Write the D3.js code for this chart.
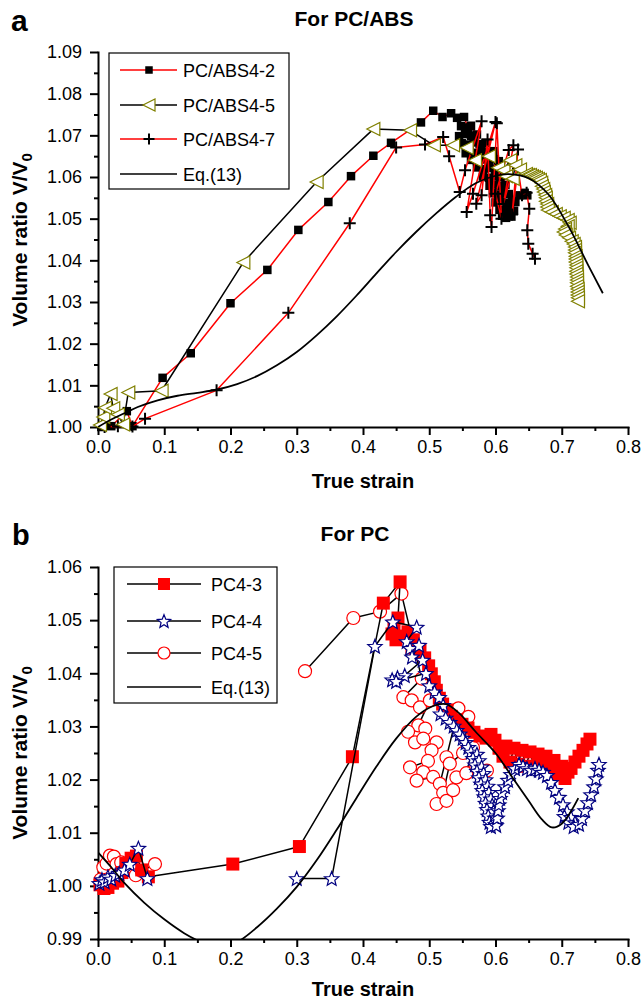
<!DOCTYPE html>
<html>
<head>
<meta charset="utf-8">
<script src="https://cdn.jsdelivr.net/npm/d3@7"></script>
<style>
  body { margin: 0; background: #fff; }
  svg { display: block; }
  text { font-family: "Liberation Sans", Arial, Helvetica, sans-serif; fill: #000; }
</style>
</head>
<body>
<svg id="chart" width="644" height="999"></svg>
<script>
// ---------- axis ticks ----------
const xMajor = [0, 0.1, 0.2, 0.3, 0.4, 0.5, 0.6, 0.7, 0.8];
const xMinor = [0.05, 0.15, 0.25, 0.35, 0.45, 0.55, 0.65, 0.75];
const yMajorA = [1.00, 1.01, 1.02, 1.03, 1.04, 1.05, 1.06, 1.07, 1.08, 1.09];
const yMinorA = [1.005, 1.015, 1.025, 1.035, 1.045, 1.055, 1.065, 1.075, 1.085];
const yMajorB = [0.99, 1.00, 1.01, 1.02, 1.03, 1.04, 1.05, 1.06];
const yMinorB = [0.995, 1.005, 1.015, 1.025, 1.035, 1.045, 1.055];

// ---------- labels ----------
const titleA = "For PC/ABS";
const titleB = "For PC";
const xTitle = "True strain";
const legendA = ["PC/ABS4-2", "PC/ABS4-5", "PC/ABS4-7", "Eq.(13)"];
const legendB = ["PC4-3", "PC4-4", "PC4-5", "Eq.(13)"];

// ---------- panel a: PC/ABS (true strain, V/V0) ----------
const pcabs42 = [[0.005,1.0000],[0.020,1.0002],[0.0435,1.0038],[0.052,1.0002],[0.0975,1.0118],[0.140,1.0177],
  [0.200,1.0297],[0.2556,1.0377],[0.3024,1.0473],[0.3477,1.0540],[0.3819,1.0602],[0.4156,1.0651],[0.4423,1.0682],
  [0.4875,1.0731],[0.506,1.0759],[0.520,1.0744],[0.533,1.0753],[0.542,1.0742],[0.5525,1.0744],[0.559,1.0716],
  [0.548,1.0722],[0.556,1.0719],[0.563,1.0723],
  [0.572,1.0702],[0.563,1.0699],[0.554,1.0703],[0.545,1.0698],
  [0.549,1.0681],[0.558,1.0678],[0.567,1.0683],[0.576,1.0679],[0.585,1.0682],
  [0.597,1.0662],[0.588,1.0659],[0.579,1.0663],[0.570,1.0658],[0.561,1.0661],[0.555,1.0657],
  [0.563,1.0641],[0.572,1.0638],[0.581,1.0642],[0.590,1.0639],[0.599,1.0643],[0.605,1.0638],
  [0.608,1.0621],[0.600,1.0618],[0.591,1.0622],[0.582,1.0619],[0.572,1.0623],
  [0.581,1.0601],[0.590,1.0598],[0.599,1.0602],[0.607,1.0599],[0.612,1.0603],
  [0.615,1.0581],[0.607,1.0578],[0.599,1.0582],[0.591,1.0579],
  [0.596,1.0561],[0.604,1.0558],[0.612,1.0562],[0.620,1.0559],
  [0.625,1.0541],[0.617,1.0538],[0.609,1.0542],[0.600,1.0539],
  [0.606,1.0521],[0.614,1.0518],[0.622,1.0522],[0.628,1.0519],
  [0.624,1.0505],[0.616,1.0502],[0.610,1.0507],
  [0.630,1.0540],[0.636,1.0556],[0.644,1.0562],[0.648,1.0556]];

const pcabs45 = [[0.003,1.0005],[0.008,1.0024],[0.0106,1.0046],[0.019,1.0079],[0.023,1.0045],[0.030,1.0030],
  [0.038,1.0006],[0.0457,1.0083],[0.096,1.0087],[0.2194,1.0395],[0.330,1.0588],[0.4156,1.0715],[0.471,1.0712],
  [0.507,1.0676],[0.536,1.0676],[0.5565,1.0670],[0.569,1.0640],[0.590,1.0650],[0.604,1.0622],[0.612,1.0616],
  [0.622,1.0640],[0.616,1.0602],[0.626,1.0596],[0.630,1.0628],[0.637,1.0618],
  [0.646,1.0607],[0.649,1.0605],[0.652,1.0605],[0.655,1.0602],[0.658,1.0600],[0.661,1.0598],[0.664,1.0595],[0.667,1.0593],
  [0.669,1.0586],[0.670,1.0578],[0.672,1.0571],[0.673,1.0564],[0.675,1.0557],[0.676,1.0550],[0.676,1.0542],[0.678,1.0535],
  [0.678,1.0528],[0.679,1.0521],[0.685,1.0516],[0.691,1.0511],[0.697,1.0506],[0.703,1.0502],[0.709,1.0497],[0.712,1.0490],
  [0.709,1.0482],[0.705,1.0475],[0.703,1.0468],[0.706,1.0461],[0.711,1.0454],[0.715,1.0446],[0.718,1.0439],
  [0.720,1.0432],[0.720,1.0425],[0.720,1.0418],[0.721,1.0410],[0.721,1.0403],[0.721,1.0396],[0.722,1.0389],[0.722,1.0382],
  [0.722,1.0374],[0.722,1.0367],[0.723,1.0360],[0.723,1.0353],[0.723,1.0346],[0.723,1.0338],[0.724,1.0331],[0.724,1.0324],
  [0.724,1.0317],[0.7245,1.0310],[0.7245,1.0302]];

const pcabs47 = [[0.010,1.0000],[0.030,1.0002],[0.052,1.0001],[0.071,1.0020],[0.179,1.0088],[0.2873,1.0274],
  [0.380,1.0489],[0.450,1.0671],[0.4936,1.0678],[0.521,1.0696],[0.530,1.0650],[0.546,1.0564],[0.554,1.0616],
  [0.579,1.0734],[0.5565,1.0516],[0.566,1.0560],[0.600,1.0732],[0.571,1.0536],[0.579,1.0556],[0.588,1.0690],
  [0.592,1.0508],[0.594,1.0480],[0.602,1.0729],[0.609,1.0500],[0.600,1.0560],[0.620,1.0665],[0.627,1.0676],
  [0.612,1.0535],[0.634,1.0666],[0.625,1.0510],[0.634,1.0620],[0.640,1.0556],[0.647,1.0562],[0.651,1.0524],
  [0.648,1.0472],[0.6495,1.0440],[0.656,1.0416],[0.6596,1.0404]];

const eqA = [[0,1.0000],[0.02,1.0018],[0.04,1.0033],[0.06,1.0048],[0.09,1.0064],[0.12,1.0075],[0.15,1.0082],
  [0.18,1.0090],[0.21,1.0103],[0.24,1.0122],[0.27,1.0148],[0.30,1.0180],[0.33,1.0220],[0.36,1.0265],[0.39,1.0315],
  [0.42,1.0368],[0.45,1.0420],[0.48,1.0468],[0.51,1.0512],[0.54,1.0552],[0.57,1.0585],[0.60,1.0603],[0.62,1.0607],
  [0.65,1.0597],[0.68,1.0558],[0.71,1.0482],[0.74,1.0388],[0.762,1.0321]];

// ---------- panel b: PC (null = break in the connecting line) ----------
const pc43 = [[0.003,1.0002],[0.009,0.9995],[0.015,0.9997],[0.022,1.0005],[0.030,1.0009],[0.036,1.0025],[0.042,1.0042],
  [0.050,1.0052],[0.058,1.0056],[0.066,1.0030],[0.076,1.0017],[0.2035,1.0041],[0.304,1.0074],[0.384,1.0243],
  [0.4307,1.0532],[0.456,1.0572],
  [0.4528,1.0504],[0.4468,1.0489],[0.4438,1.0474],[0.4498,1.0463],[0.4589,1.0470],[0.4679,1.0478],[0.4760,1.0463],
  [0.4739,1.0448],[0.4800,1.0436],[0.4860,1.0444],[0.4931,1.0429],[0.4991,1.0414],[0.5031,1.0399],[0.5076,1.0384],
  [0.5107,1.0368],[0.5152,1.0353],[0.5202,1.0342],[0.5268,1.0331],[0.5333,1.0319],[0.5414,1.0312],[0.5494,1.0304],
  [0.5585,1.0297],[0.5675,1.0289],[0.5766,1.0282],[0.5857,1.0278],[0.5932,1.0285],[0.5992,1.0274],[0.6053,1.0259],
  [0.6113,1.0244],[0.6158,1.0263],[0.6219,1.0233],[0.6279,1.0259],[0.6340,1.0229],[0.6400,1.0255],[0.6460,1.0225],
  [0.6521,1.0252],[0.6581,1.0225],[0.6642,1.0248],[0.6702,1.0221],[0.6762,1.0244],[0.6823,1.0218],[0.6883,1.0236],
  [0.6943,1.0210],[0.7004,1.0225],[0.7049,1.0202],[0.7094,1.0214],[0.7140,1.0221],[0.7200,1.0233],[0.7260,1.0244],
  [0.7321,1.0255],[0.7381,1.0267],[0.7426,1.0276]];

const pc44 = [[0.002,1.0005],[0.006,1.0012],[0.010,1.0008],[0.015,1.0017],[0.020,1.0013],[0.026,1.0020],[0.032,1.0024],
  [0.040,1.0030],[0.048,1.0041],[0.061,1.0071],[0.0745,1.0014], null,
  [0.300,1.0014],[0.3527,1.0014],[0.418,1.0451],[0.445,1.0497],[0.481,1.0487],[0.466,1.0460],[0.471,1.0447],
  [0.4846,1.0453],[0.474,1.0431],[0.490,1.0425],[0.463,1.0396],[0.452,1.0392],[0.444,1.0388],[0.450,1.0385],
  [0.495,1.0400],[0.500,1.0377],[0.508,1.0365],[0.515,1.0355],[0.521,1.0340],[0.517,1.0324],
  [0.5248,1.0316],[0.5308,1.0308],[0.5369,1.0301],[0.5414,1.0293],[0.5459,1.0286],[0.5505,1.0278],[0.5550,1.0270],
  [0.5590,1.0261],[0.5630,1.0252],[0.5720,1.0248],[0.5660,1.0240],[0.5750,1.0236],[0.5690,1.0228],[0.5790,1.0224],
  [0.5720,1.0216],[0.5820,1.0212],[0.5750,1.0204],[0.5850,1.0200],[0.5780,1.0192],[0.5880,1.0188],[0.5800,1.0180],
  [0.5900,1.0176],[0.5830,1.0168],[0.5930,1.0164],[0.5850,1.0156],[0.5950,1.0152],[0.5870,1.0144],[0.5970,1.0140],
  [0.5890,1.0132],[0.5990,1.0128],[0.5910,1.0120],[0.6000,1.0116],[0.5930,1.0112],[0.6010,1.0114],[0.6025,1.0128],
  [0.6038,1.0142],[0.6050,1.0153],
  [0.6068,1.0165],[0.6098,1.0176],[0.6143,1.0187],[0.6189,1.0199],[0.6234,1.0210],[0.6294,1.0221],[0.6355,1.0229],
  [0.6415,1.0225],[0.6475,1.0221],[0.6536,1.0218],[0.6596,1.0221],[0.6657,1.0218],[0.6717,1.0214],[0.6777,1.0208],
  [0.6838,1.0195],[0.6898,1.0180],[0.6958,1.0167],[0.7019,1.0153],[0.7079,1.0140],[0.7040,1.0131],[0.7140,1.0129],
  [0.7100,1.0120],[0.7200,1.0119],[0.7180,1.0112],[0.7260,1.0116],[0.7306,1.0127],[0.7351,1.0142],[0.7396,1.0157],
  [0.7442,1.0172],[0.7487,1.0187],[0.7517,1.0202],[0.7547,1.0218],[0.7562,1.0229]];

const pc45 = [[0.004,1.0012],[0.008,1.0035],[0.013,1.0042],[0.018,1.0057],[0.024,1.0055],[0.028,1.0041],[0.035,1.0044],
  [0.042,1.0030],[0.050,1.0036],[0.057,1.0020],[0.066,1.0028],[0.086,1.0041], null,
  [0.3125,1.0404],[0.3854,1.0504],[0.4257,1.0516],[0.458,1.0550],
  [0.4886,1.0390],[0.461,1.0355],[0.4735,1.0349],[0.486,1.0336],[0.501,1.0349],[0.4835,1.0302],[0.494,1.0296],
  [0.468,1.0290],[0.4785,1.0270],[0.491,1.0277],[0.511,1.0270],[0.5035,1.0255],[0.498,1.0235],[0.471,1.0223],
  [0.491,1.0214],[0.481,1.0198],[0.506,1.0205],[0.516,1.0192],[0.526,1.0242],[0.544,1.0334],[0.559,1.0318],
  [0.551,1.0250],[0.531,1.0230],[0.521,1.0175],[0.511,1.0154],[0.526,1.0160],[0.536,1.0180],[0.541,1.0204],
  [0.556,1.0212],[0.566,1.0260],[0.571,1.0223],[0.587,1.0217]];

const eqB = [[0,1.0063],[0.02,1.0035],[0.04,1.0005],[0.07,0.9968],[0.10,0.9937],[0.13,0.9911],[0.16,0.9892],
  [0.185,0.9884],[0.21,0.9894],[0.24,0.9922],[0.27,0.9957],[0.30,0.9998],[0.33,1.0048],[0.36,1.0105],[0.39,1.0165],
  [0.42,1.0224],[0.45,1.0277],[0.48,1.0318],[0.505,1.0338],[0.525,1.0342],[0.545,1.0325],[0.57,1.0290],[0.60,1.0250],
  [0.625,1.0205],[0.65,1.0160],[0.67,1.0125],[0.685,1.0110],[0.70,1.0117],[0.725,1.0165]];

// ---------- drawing ----------
const svg = d3.select("#chart");
const RED = "#ff0000", OLIVE = "#808000", NAVY = "#000080";

const shapes = {
  square: s => `M${-s/2},${-s/2}h${s}v${s}h${-s}Z`,
  triLeft: s => `M${-s/2},0L${s/2},${-s/2}L${s/2},${s/2}Z`,
  cross: s => `M${-s/2},0H${s/2}M0,${-s/2}V${s/2}`,
  star: s => {
    const R = s / 2, r = R * 0.44, pts = [];
    for (let i = 0; i < 10; i++) {
      const a = -Math.PI / 2 + i * Math.PI / 5, rr = i % 2 ? r : R;
      pts.push([rr * Math.cos(a), rr * Math.sin(a) + R * 0.1]);
    }
    return "M" + pts.map(p => p[0].toFixed(2) + "," + p[1].toFixed(2)).join("L") + "Z";
  },
  circle: s => { const r = s / 2; return `M${-r},0A${r},${r} 0 1,0 ${r},0A${r},${r} 0 1,0 ${-r},0Z`; }
};

function drawAxes(g, x, y, yMajor, yMinor) {
  const y0 = y.range()[0];
  g.append("g").attr("transform", `translate(0,${y0})`)
    .call(d3.axisBottom(x).tickValues(xMajor).tickFormat(d3.format(".1f")).tickSize(8).tickSizeOuter(0).tickPadding(5));
  g.append("g").attr("transform", `translate(0,${y0})`)
    .call(d3.axisBottom(x).tickValues(xMinor).tickFormat("").tickSize(4).tickSizeOuter(0))
    .select(".domain").remove();
  g.append("g").attr("transform", `translate(${x.range()[0]},0)`)
    .call(d3.axisLeft(y).tickValues(yMajor).tickFormat(d3.format(".2f")).tickSize(8).tickSizeOuter(0).tickPadding(8));
  g.append("g").attr("transform", `translate(${x.range()[0]},0)`)
    .call(d3.axisLeft(y).tickValues(yMinor).tickFormat("").tickSize(4).tickSizeOuter(0))
    .select(".domain").remove();
  g.selectAll(".domain").attr("stroke", "#000").attr("stroke-width", 2).attr("stroke-linecap", "square");
  g.selectAll(".tick line").attr("stroke", "#000").attr("stroke-width", 2);
  g.selectAll(".tick text").attr("font-size", 18).attr("fill", "#000")
    .attr("font-family", '"Liberation Sans", Arial, sans-serif');
}

function drawSeries(g, data, x, y, o) {
  const line = d3.line().defined(d => d != null).x(d => x(d[0])).y(d => y(d[1]));
  if (o.curve) line.curve(o.curve);
  const path = g.append("path").datum(data).attr("d", line)
    .attr("fill", "none").attr("stroke", o.lineColor).attr("stroke-width", o.lineWidth || 1.5)
    .attr("stroke-linejoin", "round");
  if (o.clip) path.attr("clip-path", `url(#${o.clip})`);
  if (!o.marker) return;
  g.append("g").selectAll("path").data(data.filter(d => d != null)).join("path")
    .attr("transform", d => `translate(${x(d[0])},${y(d[1])})`)
    .attr("d", shapes[o.marker](o.size))
    .attr("fill", o.fill).attr("stroke", o.stroke || "none").attr("stroke-width", o.strokeWidth || 1.2);
}

function drawLegend(g, box, rows, lineX, markX, textX, labels, styles) {
  g.append("rect").attr("x", box[0]).attr("y", box[1]).attr("width", box[2] - box[0]).attr("height", box[3] - box[1])
    .attr("fill", "#fff").attr("stroke", "#000").attr("stroke-width", 1.2);
  labels.forEach((lab, i) => {
    const s = styles[i], yy = rows[i];
    g.append("line").attr("x1", lineX[0]).attr("x2", lineX[1]).attr("y1", yy).attr("y2", yy)
      .attr("stroke", s.lineColor).attr("stroke-width", 1.5);
    if (s.marker) {
      g.append("path").attr("transform", `translate(${markX},${yy})`).attr("d", shapes[s.marker](s.legendSize || s.size))
        .attr("fill", s.fill).attr("stroke", s.stroke || "none").attr("stroke-width", s.strokeWidth || 1.2);
    }
    g.append("text").attr("x", textX).attr("y", yy + 6.5).attr("font-size", 18).text(lab);
  });
}

function yLabel(g, cx, cy) {
  const t = g.append("text").attr("transform", `translate(${cx},${cy}) rotate(-90)`)
    .attr("text-anchor", "middle").attr("font-size", 21).attr("font-weight", "bold");
  t.append("tspan").text("Volume ratio V/V");
  t.append("tspan").attr("font-size", 15).attr("dy", 5).text("0");
}

const defs = svg.append("defs");

// ----- panel a -----
const xA = d3.scaleLinear().domain([0, 0.8]).range([98, 628]);
const yA = d3.scaleLinear().domain([1.00, 1.09]).range([427, 52]);
defs.append("clipPath").attr("id", "clipA").append("rect").attr("x", 98).attr("y", 52).attr("width", 530).attr("height", 375);
const gA = svg.append("g");
drawAxes(gA, xA, yA, yMajorA, yMinorA);

const stA = [
  { lineColor: RED, marker: "square", size: 8.5, legendSize: 7.5, fill: "#000" },
  { lineColor: "#000", marker: "triLeft", size: 13, legendSize: 12, fill: "#fff", stroke: OLIVE, strokeWidth: 1.2 },
  { lineColor: RED, marker: "cross", size: 12, legendSize: 11, fill: "none", stroke: "#000", strokeWidth: 2 },
  { lineColor: "#000" }
];
drawSeries(gA, pcabs42, xA, yA, stA[0]);
drawSeries(gA, pcabs47, xA, yA, stA[2]);
drawSeries(gA, pcabs45, xA, yA, stA[1]);
drawSeries(gA, eqA, xA, yA, { lineColor: "#000", lineWidth: 1.8, curve: d3.curveCatmullRom, clip: "clipA" });

drawLegend(gA, [109, 53, 289, 189], [70, 105, 139, 174], [120, 177], 149, 183, legendA, stA);

gA.append("text").attr("x", 11).attr("y", 31).attr("font-size", 30).attr("font-weight", "bold").text("a");
gA.append("text").attr("x", 354).attr("y", 26).attr("text-anchor", "middle").attr("font-size", 21).attr("font-weight", "bold").text(titleA);
gA.append("text").attr("x", 363).attr("y", 488).attr("text-anchor", "middle").attr("font-size", 20).attr("font-weight", "bold").text(xTitle);
yLabel(gA, 27, 240);

// ----- panel b -----
const xB = d3.scaleLinear().domain([0, 0.8]).range([98, 628]);
const yB = d3.scaleLinear().domain([0.99, 1.06]).range([939, 567]);
defs.append("clipPath").attr("id", "clipB").append("rect").attr("x", 98).attr("y", 567).attr("width", 530).attr("height", 372);
const gB = svg.append("g");
drawAxes(gB, xB, yB, yMajorB, yMinorB);

const stB = [
  { lineColor: "#000", marker: "square", size: 13, legendSize: 12, fill: RED },
  { lineColor: "#000", marker: "star", size: 15, legendSize: 14, fill: "#fff", stroke: NAVY, strokeWidth: 1.2 },
  { lineColor: "#000", marker: "circle", size: 13, legendSize: 12, fill: "#fff", stroke: RED, strokeWidth: 1.2 },
  { lineColor: "#000" }
];
drawSeries(gB, pc45, xB, yB, stB[2]);
drawSeries(gB, pc43, xB, yB, stB[0]);
drawSeries(gB, pc44, xB, yB, stB[1]);
drawSeries(gB, eqB, xB, yB, { lineColor: "#000", lineWidth: 1.8, curve: d3.curveCatmullRom, clip: "clipB" });

drawLegend(gB, [114, 567, 277, 703], [584, 621, 653, 687], [127, 201], 164, 211, legendB, stB);

gB.append("text").attr("x", 12).attr("y", 545).attr("font-size", 29).attr("font-weight", "bold").text("b");
gB.append("text").attr("x", 355).attr("y", 541).attr("text-anchor", "middle").attr("font-size", 21).attr("font-weight", "bold").text(titleB);
gB.append("text").attr("x", 363).attr("y", 996).attr("text-anchor", "middle").attr("font-size", 20).attr("font-weight", "bold").text(xTitle);
yLabel(gB, 27, 753);
</script>
</body>
</html>
